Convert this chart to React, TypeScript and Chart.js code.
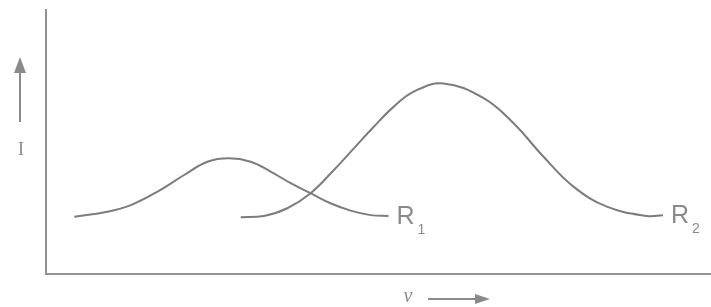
import React, { useEffect, useRef } from "react";
import { Chart, registerables } from "chart.js";

Chart.register(...registerables);

// Frequency (ν) and intensity (I) readings, arbitrary units 0–100
const r1Nu = [4.25, 9.26, 12.76, 16.77, 20.77, 24.28, 27.52, 30.78, 33.78, 36.79, 39.79, 42.79, 45.8, 48.8, 51.5];
const r1I = [21.7, 23.6, 26.1, 31.2, 37.5, 42.5, 43.8, 42.5, 38.8, 34.4, 30.6, 26.8, 24.0, 22.3, 22.0];

const r2Nu = [29.28, 32.78, 36.29, 39.79, 43.29, 46.29, 49.29, 52.3, 55.3, 59.76, 65.81, 70.31, 74.82, 79.32, 84.34, 90.35, 92.79];
const r2I = [21.5, 22.0, 24.9, 30.6, 39.4, 47.6, 55.8, 63.4, 69.1, 72.2, 66.6, 57.1, 44.4, 33.1, 25.5, 22.0, 22.3];

const seriesNames = ["R", "R"];
const seriesSubs = ["1", "2"];
const yAxisLabel = "I";
const xAxisLabel = "ν";

const lineColor = "#7c7c7c";
const axisColor = "#929292";
const textColor = "#8a8a8a";

const annotations = {
  id: "annotations",
  afterDraw(chart: any) {
    const ctx = chart.ctx;
    const xs = chart.scales.x;
    const ys = chart.scales.y;
    ctx.save();
    ctx.fillStyle = textColor;
    ctx.strokeStyle = textColor;

    const ends = [
      { nu: r1Nu[r1Nu.length - 1], i: r1I[r1I.length - 1] },
      { nu: r2Nu[r2Nu.length - 1], i: r2I[r2I.length - 1] },
    ];
    ends.forEach((e, k) => {
      const px = xs.getPixelForValue(e.nu) + 8;
      const py = ys.getPixelForValue(e.i);
      ctx.font = "25px 'Liberation Sans', sans-serif";
      ctx.textAlign = "left";
      ctx.textBaseline = "middle";
      ctx.fillText(seriesNames[k], px, py + 1);
      const w = ctx.measureText(seriesNames[k]).width;
      ctx.font = "14px 'Liberation Sans', sans-serif";
      ctx.fillText(seriesSubs[k], px + w + 3, py + 14);
    });

    ctx.font = "18px 'Liberation Serif', serif";
    ctx.textAlign = "center";
    ctx.textBaseline = "middle";
    ctx.fillText(yAxisLabel, 21, 150);
    ctx.lineWidth = 2;
    ctx.beginPath();
    ctx.moveTo(20, 122);
    ctx.lineTo(20, 70);
    ctx.stroke();
    ctx.beginPath();
    ctx.moveTo(20, 57);
    ctx.lineTo(14, 73);
    ctx.lineTo(26, 73);
    ctx.closePath();
    ctx.fill();

    ctx.font = "italic 20px 'Liberation Serif', serif";
    ctx.fillText(xAxisLabel, 408, 297);
    ctx.beginPath();
    ctx.moveTo(428, 299);
    ctx.lineTo(478, 299);
    ctx.stroke();
    ctx.beginPath();
    ctx.moveTo(490, 299);
    ctx.lineTo(475, 294);
    ctx.lineTo(475, 304);
    ctx.closePath();
    ctx.fill();
    ctx.restore();
  },
};

export default function App() {
  const ref = useRef<HTMLCanvasElement | null>(null);
  useEffect(() => {
    if (!ref.current) return;
    const chart = new Chart(ref.current, {
      type: "line",
      data: {
        datasets: [
          {
            label: "R1",
            data: r1Nu.map((x, i) => ({ x, y: r1I[i] })),
            borderColor: lineColor,
            borderWidth: 2,
            pointRadius: 0,
            tension: 0.4,
            fill: false,
          },
          {
            label: "R2",
            data: r2Nu.map((x, i) => ({ x, y: r2I[i] })),
            borderColor: lineColor,
            borderWidth: 2,
            pointRadius: 0,
            tension: 0.4,
            fill: false,
          },
        ],
      },
      options: {
        animation: false,
        responsive: false,
        maintainAspectRatio: false,
        layout: { padding: { left: 38, top: 10, right: 0, bottom: 25 } },
        plugins: { legend: { display: false }, tooltip: { enabled: false } },
        scales: {
          x: {
            type: "linear",
            min: 0,
            max: 100,
            ticks: { display: false },
            grid: { display: false },
            border: { display: true, color: axisColor, width: 2 },
          },
          y: {
            type: "linear",
            min: 0,
            max: 100,
            ticks: { display: false },
            grid: { display: false },
            border: { display: true, color: axisColor, width: 2 },
          },
        },
      },
      plugins: [annotations],
    });
    return () => chart.destroy();
  }, []);
  return (
    <div style={{ position: "fixed", left: 0, top: 0, width: 711, height: 307, background: "#fff" }}>
      <canvas ref={ref} width={711} height={307} style={{ display: "block" }} />
    </div>
  );
}
